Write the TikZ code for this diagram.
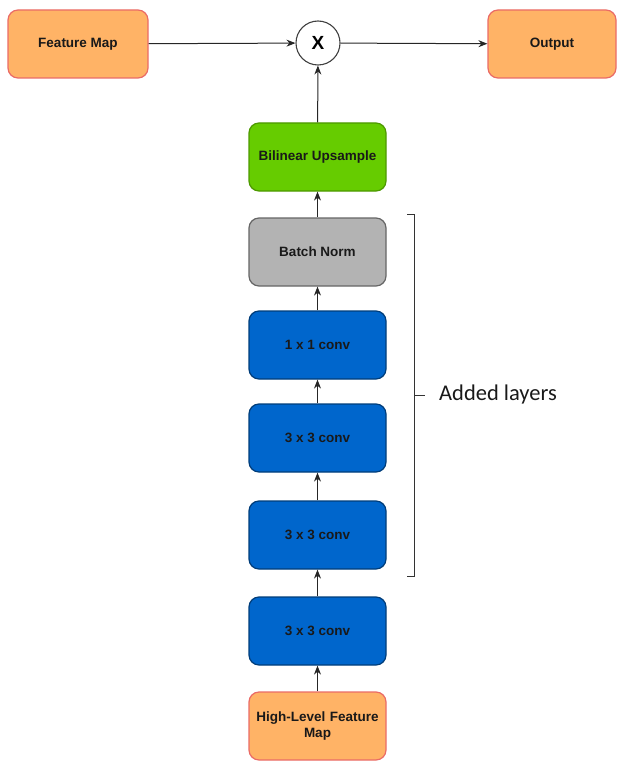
\documentclass[tikz,border=0pt]{standalone}
\usepackage{fontspec}
\setmainfont{Liberation Sans}
\newfontfamily\calib{Carlito}
\usetikzlibrary{arrows.meta}
\definecolor{orfill}{HTML}{FFB366}
\definecolor{ordraw}{HTML}{EA6B66}
\definecolor{grfill}{HTML}{66CC00}
\definecolor{grdraw}{HTML}{4D9900}
\definecolor{gyfill}{HTML}{B3B3B3}
\definecolor{gydraw}{HTML}{666666}
\definecolor{blfill}{HTML}{0066CC}
\definecolor{bldraw}{HTML}{003D7A}
\begin{document}
\begin{tikzpicture}[x=1pt,y=-1pt,
  box/.style={rectangle, rounded corners=10pt, minimum width=137pt, minimum height=68pt, line width=1.2pt, font=\fontsize{13.5}{16}\selectfont\bfseries, align=center, text=black!90},
  orbox/.style={box, fill=orfill, draw=ordraw},
  grbox/.style={box, fill=grfill, draw=grdraw},
  gybox/.style={box, fill=gyfill, draw=gydraw},
  blbox/.style={box, fill=blfill, draw=bldraw},
  conn/.style={-{Stealth[length=9pt,width=7pt]}, line width=1pt, black!85}]
\useasboundingbox (0,0) rectangle (622,762);
\node[orbox, minimum width=140pt] (fm) at (78,44) {Feature Map};
\node[orbox, minimum width=128pt] (out) at (552,44) {Output};
\node[circle, draw=black!75, line width=1.1pt, fill=white, minimum size=44pt, inner sep=0pt, font=\fontsize{19}{21}\selectfont\bfseries] (x) at (318,43) {X};
\node[grbox] (up) at (317.5,157) {Bilinear Upsample};
\node[gybox] (bn) at (317.5,252) {Batch Norm};
\node[blbox] (c1) at (317.5,345) {1 x 1 conv};
\node[blbox] (c2) at (317.5,438) {3 x 3 conv};
\node[blbox] (c3) at (317.5,535) {3 x 3 conv};
\node[blbox] (c4) at (317.5,631) {3 x 3 conv};
\node[orbox, text width=134pt, inner xsep=0pt] (hl) at (317.5,726) {High-Level Feature\\Map};
\draw[conn] (fm) -- (x);
\draw[conn] (x) -- (out);
\draw[conn] (up) -- (x);
\draw[conn] (bn) -- (up);
\draw[conn] (c1) -- (bn);
\draw[conn] (c2) -- (c1);
\draw[conn] (c3) -- (c2);
\draw[conn] (c4) -- (c3);
\draw[conn] (hl) -- (c4);
\coordinate (bt) at (407,214);
\coordinate (bb) at (407,576);
\draw[line width=0.9pt, black!80] (bt) -- (414,214) -- (414,576) -- (bb);
\coordinate (bm) at (414,395);
\draw[line width=0.9pt, black!80] (bm) -- ++(11,0) coordinate (bme);
\node[anchor=west, font=\calib\fontsize{22.5}{26}\selectfont, text=black!90, inner sep=0pt] (lbl) at (439,394) {Added layers};
\end{tikzpicture}
\end{document}
